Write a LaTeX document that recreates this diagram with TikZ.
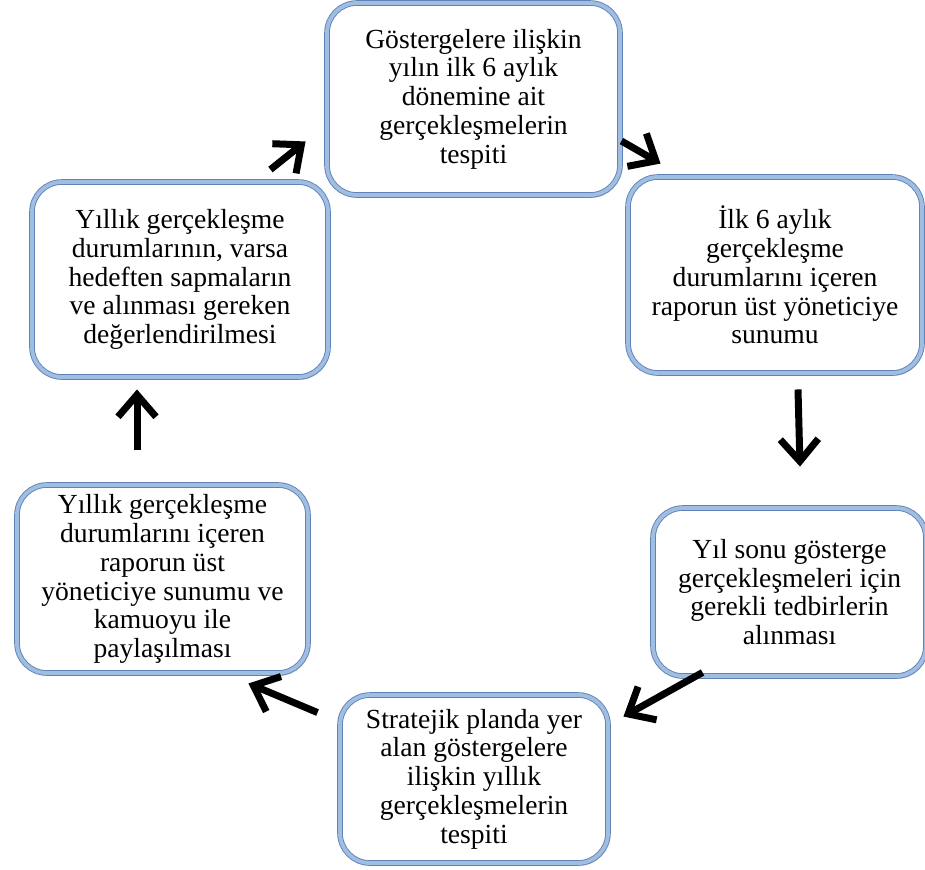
\documentclass[tikz,border=0pt]{standalone}
\usepackage{fontspec}
\setmainfont{Liberation Serif}
\usetikzlibrary{arrows.meta,shadows}
\definecolor{boxline}{RGB}{96,130,180}
\definecolor{boxband}{RGB}{160,189,226}
\tikzset{
	stepbox/.style={draw=boxline, line width=0.45pt, double=boxband, double distance=1.9pt,
		fill=white, rounded corners=15pt, align=center, inner sep=0pt,
		font=\fontsize{13.8}{14.4}\selectfont,
		drop shadow={opacity=0.3, shadow xshift=0.8pt, shadow yshift=-1.4pt}},
	flow/.style={line width=3.5pt, -{Straight Barb[length=11pt,width=19pt]}}
}

\begin{document}
\begin{tikzpicture}[x=0.5pt, y=-0.5pt]
		%%%%% START %%%%%
		
		\useasboundingbox (0, 0) rectangle (925, 869);
		
		\node[stepbox, minimum width=146.5pt, minimum height=96pt] (b1) at (473.5, 99) {Göstergelere ilişkin\\yılın ilk 6 aylık\\dönemine ait\\gerçekleşmelerin\\tespiti};
		\node[stepbox, minimum width=147pt, minimum height=98pt] (b2) at (775, 275) {İlk 6 aylık\\gerçekleşme\\durumlarını içeren\\raporun üst yöneticiye\\sunumu};
		\node[stepbox, minimum width=136.5pt, minimum height=84pt] (b3) at (789.5, 592) {Yıl sonu gösterge\\gerçekleşmeleri için\\gerekli tedbirlerin\\alınması};
		\node[stepbox, minimum width=134pt, minimum height=84pt] (b4) at (474, 779) {Stratejik planda yer\\alan göstergelere\\ilişkin yıllık\\gerçekleşmelerin\\tespiti};
		\node[stepbox, minimum width=145.5pt, minimum height=94pt] (b5) at (162.5, 579) {Yıllık gerçekleşme\\durumlarını içeren\\raporun üst\\yöneticiye sunumu ve\\kamuoyu ile\\paylaşılması};
		\node[stepbox, minimum width=148pt, minimum height=97.5pt] (b6) at (180, 279.5) {Yıllık gerçekleşme\\durumlarının, varsa\\hedeften sapmaların\\ve alınması gereken\\değerlendirilmesi};
		
		\draw[flow] ([shift={(-58,-12)}]b6.north east) -- ([shift={(-21,-54)}]b1.south west);
		\draw[flow] ([shift={(1,42)}]b1.east) -- ([shift={(33,-13)}]b2.north west);
		\draw[flow] ([shift={(23,16)}]b2.south) -- ([shift={(10.5,-41)}]b3.north);
		\draw[flow] ([shift={(50,-4)}]b3.south west) -- ([shift={(15,22)}]b4.north east);
		\draw[flow] ([shift={(-22,18)}]b4.north west) -- ([shift={(-60,10)}]b5.south east);
		\draw[flow] ([shift={(-25.5,-35)}]b5.north) -- ([shift={(-43,12)}]b6.south);
		
		%%%%% END %%%%%
	\end{tikzpicture}
\end{document}
